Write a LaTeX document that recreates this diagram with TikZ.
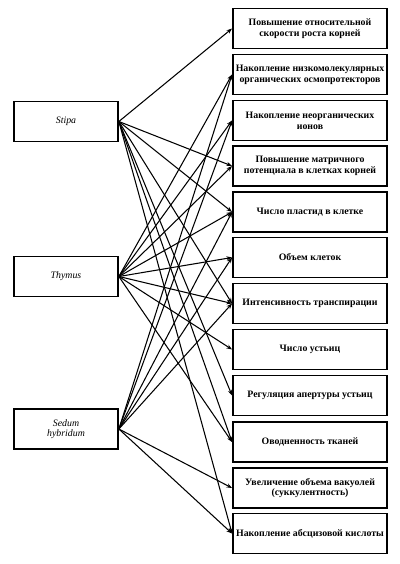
\documentclass[tikz,border=0pt]{standalone}
\usepackage{fontspec}
\setmainfont{Liberation Serif}
\usetikzlibrary{arrows.meta}

\begin{document}
\begin{tikzpicture}[x=0.025cm, y=-0.025cm,
    species/.style={draw, line width=1.2pt, minimum width=2.6cm, minimum height=1cm,
      inner sep=1pt, align=center, font=\fontsize{7}{7.5}\selectfont\itshape},
    trait/.style={draw, line width=1.3pt, minimum width=3.85cm, minimum height=1cm,
      inner sep=1pt, align=center, font=\fontsize{7}{7.6}\selectfont\bfseries},
    link/.style={line width=0.75pt, -{Stealth[length=4pt,width=3pt]}}]
      \useasboundingbox (0,0) rectangle (400,564);
      % Species (left column)
      \node[species] (stipa) at (66,121.5) {Stipa};
      \node[species] (thymus) at (66,276.5) {Thymus};
      \node[species] (sedum) at (66,429) {Sedum\\hybridum};
      % Traits (right column)
      \node[trait] (growth) at (310,28.5) {Повышение относительной\\скорости роста корней};
      \node[trait] (osmo) at (310,74.5) {Накопление низкомолекулярных\\органических осмопротекторов};
      \node[trait] (ions) at (310,120.5) {Накопление неорганических\\ионов};
      \node[trait] (matrix) at (310,166) {Повышение матричного\\потенциала в клетках корней};
      \node[trait] (plastid) at (310,212) {Число пластид в клетке};
      \node[trait] (cellvol) at (310,257.5) {Объем клеток};
      \node[trait] (transp) at (310,303.5) {Интенсивность транспирации};
      \node[trait] (stomata) at (310,349.5) {Число устьиц};
      \node[trait] (aperture) at (310,395.5) {Регуляция апертуры устьиц};
      \node[trait] (water) at (310,442) {Оводненность тканей};
      \node[trait] (vacuole) at (310,488) {Увеличение объема вакуолей\\(суккулентность)};
      \node[trait] (aba) at (310,533.5) {Накопление абсцизовой кислоты};
      % Stipa links
      \draw[link] (stipa.east) -- (growth.west);
      \draw[link] (stipa.east) -- (matrix.west);
      \draw[link] (stipa.east) -- (plastid.west);
      \draw[link] (stipa.east) -- (transp.west);
      \draw[link] (stipa.east) -- (aperture.west);
      \draw[link] (stipa.east) -- (water.west);
      \draw[link] (stipa.east) -- (aba.west);
      % Thymus links
      \draw[link] (thymus.east) -- (osmo.west);
      \draw[link] (thymus.east) -- (ions.west);
      \draw[link] (thymus.east) -- (matrix.west);
      \draw[link] (thymus.east) -- (plastid.west);
      \draw[link] (thymus.east) -- (cellvol.west);
      \draw[link] (thymus.east) -- (transp.west);
      \draw[link] (thymus.east) -- (stomata.west);
      \draw[link] (thymus.east) -- (water.west);
      % Sedum hybridum links
      \draw[link] (sedum.east) -- (osmo.west);
      \draw[link] (sedum.east) -- (ions.west);
      \draw[link] (sedum.east) -- (plastid.west);
      \draw[link] (sedum.east) -- (cellvol.west);
      \draw[link] (sedum.east) -- (transp.west);
      \draw[link] (sedum.east) -- (vacuole.west);
      \draw[link] (sedum.east) -- (aba.west);
\end{tikzpicture}
\end{document}
